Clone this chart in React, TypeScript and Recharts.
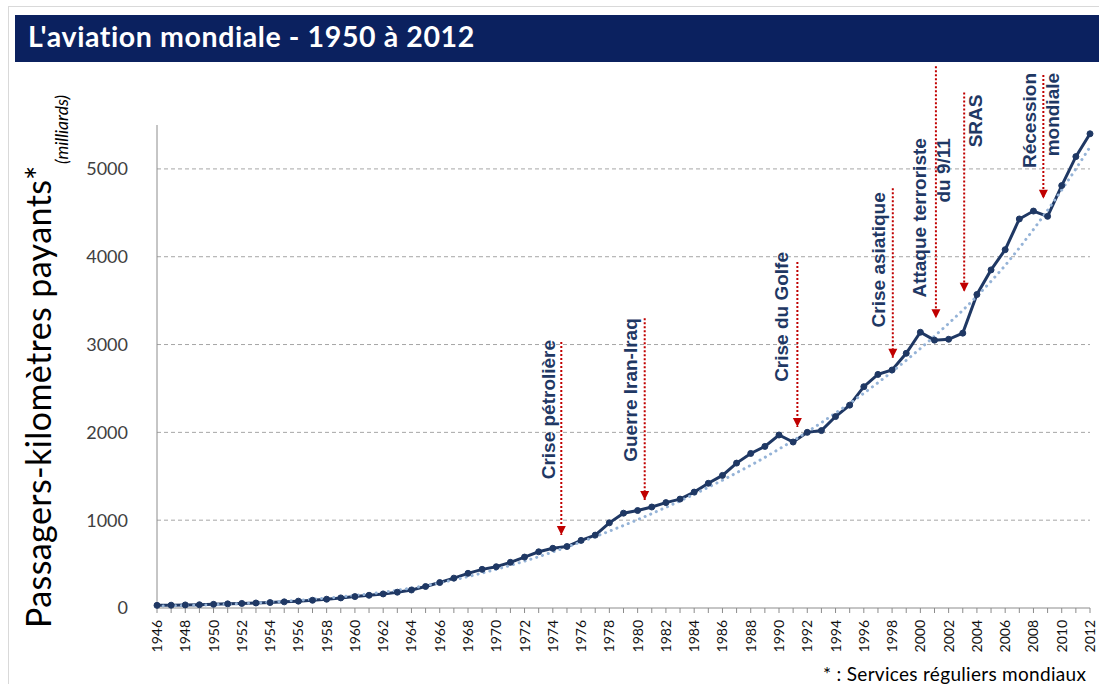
import { CartesianGrid, Line, LineChart, ReferenceLine, XAxis, YAxis } from "recharts";

// Années (catégories)
const years = [
  1946, 1947, 1948, 1949, 1950, 1951, 1952, 1953, 1954, 1955, 1956, 1957, 1958, 1959,
  1960, 1961, 1962, 1963, 1964, 1965, 1966, 1967, 1968, 1969, 1970, 1971, 1972, 1973,
  1974, 1975, 1976, 1977, 1978, 1979, 1980, 1981, 1982, 1983, 1984, 1985, 1986, 1987,
  1988, 1989, 1990, 1991, 1992, 1993, 1994, 1995, 1996, 1997, 1998, 1999, 2000, 2001,
  2002, 2003, 2004, 2005, 2006, 2007, 2008, 2009, 2010, 2011, 2012,
];

// Passagers-kilomètres payants (milliards)
const rpk = [
  30, 32, 35, 37, 42, 47, 52, 57, 62, 70, 78, 88, 100, 115,
  130, 145, 160, 180, 205, 245, 290, 340, 395, 440, 470, 520, 580, 640,
  680, 700, 770, 830, 970, 1080, 1110, 1150, 1200, 1240, 1320, 1420, 1510, 1650,
  1760, 1840, 1970, 1890, 2000, 2020, 2180, 2310, 2520, 2660, 2710, 2900, 3140, 3050,
  3060, 3130, 3570, 3850, 4080, 4430, 4520, 4460, 4810, 5140, 5400,
];

// Courbe de tendance (pointillés bleu clair)
const trend = [
  22, 25, 28, 32, 37, 43, 50, 58, 67, 77, 88, 100, 113, 127,
  143, 160, 180, 202, 227, 255, 286, 320, 357, 397, 440, 485, 533, 584,
  638, 694, 752, 812, 874, 940, 1005, 1075, 1145, 1220, 1295, 1375, 1455, 1540,
  1625, 1715, 1810, 1905, 2005, 2110, 2220, 2330, 2445, 2565, 2690, 2820, 2955, 3095,
  3240, 3390, 3550, 3720, 3900, 4100, 4310, 4530, 4760, 5000, 5250,
];

const yTicks = [0, 1000, 2000, 3000, 4000, 5000];
const gridValues = [1000, 2000, 3000, 4000, 5000];

// Événements : année de la flèche, haut et pointe (en milliards)
const eventLabels = [
  ["Crise pétrolière"],
  ["Guerre Iran-Iraq"],
  ["Crise du Golfe"],
  ["Crise asiatique"],
  ["Attaque terroriste", "du 9/11"],
  ["SRAS"],
  ["Récession", "mondiale"],
];
const eventYears = [1974.6, 1980.5, 1991.3, 1998.05, 2001.1, 2003.1, 2008.7];
const eventTops = [3030, 3300, 3940, 4780, 6170, 5870, 6070];
const eventTips = [830, 1230, 2060, 2850, 3300, 3600, 4660];

// placement du texte par rapport à la flèche (px)
const eventLayout = [
  { dx: [-6], dy: -2 },
  { dx: [-8], dy: 0 },
  { dx: [-9], dy: -10 },
  { dx: [-8], dy: 4 },
  { dx: [-10, 14], dy: 72 },
  { dx: [18], dy: 2 },
  { dx: [-7, 16], dy: -2 },
];

const data = years.map((year, i) => ({ year, rpk: rpk[i], trend: trend[i] }));

const NAVY = "#1f3864";
const RED = "#c00000";
const FONT = "Lato, 'Open Sans', sans-serif";

function EventMark(props: any) {
  const { viewBox, lines, dx, dy } = props;
  if (!viewBox) return null;
  const { x, y, height } = viewBox;
  const tip = y + height;
  return (
    <g>
      <path d={`M${x - 4.5},${tip - 9} L${x + 4.5},${tip - 9} L${x},${tip} Z`} fill={RED} />
      {lines.map((t: string, i: number) => (
        <text
          key={i}
          transform={`translate(${x + dx[i]},${y + dy}) rotate(-90)`}
          textAnchor="end"
          fontFamily="'Liberation Sans', Arial, sans-serif"
          fontWeight={700}
          fontSize={19}
          fill={NAVY}
        >
          {t}
        </text>
      ))}
    </g>
  );
}

function YearTick(props: any) {
  const { x, y, payload } = props;
  if (payload.value % 2 !== 0) return null;
  return (
    <text
      transform={`translate(${x + 5},${y + 5}) rotate(-90)`}
      textAnchor="end"
      fontFamily={FONT}
      fontSize={14}
      fill="#111"
    >
      {payload.value}
    </text>
  );
}

export default function App() {
  return (
    <div style={{ position: "absolute", left: 0, top: 0, width: 1099, height: 684, overflow: "hidden", background: "#fff", fontFamily: FONT }}>
      <svg width={1099} height={684} style={{ position: "absolute", left: 0, top: 0 }}>
        <rect x={8.5} y={6.5} width={1200} height={800} fill="none" stroke="#d9d9d9" />
        <rect x={15} y={15} width={1084} height={47} fill="#0b215f" />
        <text x={28} y={47} fill="#fff" fontFamily={FONT} fontWeight={700} fontSize={28.5} letterSpacing={0.6}>
          L'aviation mondiale - 1950 à 2012
        </text>
        <text transform="translate(51,628) rotate(-90)" fontFamily={FONT} fontSize={34} letterSpacing={0.4} fill="#000">
          Passagers-kilomètres payants*
        </text>
        <text transform="translate(68,164) rotate(-90)" fontFamily={FONT} fontStyle="italic" fontSize={17.5} fill="#000">
          (milliards)
        </text>
        <text x={823} y={681} fontFamily={FONT} fontSize={19} letterSpacing={0.3} fill="#000">
          * : Services réguliers mondiaux
        </text>
      </svg>
      <div style={{ position: "absolute", left: 0, top: 0 }}>
        <LineChart width={1099} height={684} data={data} margin={{ top: 125, right: 9, bottom: 26, left: 97 }}>
          <CartesianGrid vertical={false} horizontalValues={gridValues} stroke="#a6a6a6" strokeDasharray="4 3" />
          <XAxis
            dataKey="year"
            type="number"
            domain={[1946, 2012]}
            ticks={years}
            interval={0}
            tick={<YearTick />}
            tickSize={5}
            stroke="#8c8c8c"
            height={50}
          />
          <YAxis
            domain={[0, 5500]}
            ticks={yTicks}
            width={60}
            axisLine={{ stroke: "#8c8c8c" }}
            tickLine={false}
            tickSize={0}
            tickMargin={29}
            tick={{ fill: "#404040", fontSize: 18, fontFamily: FONT }}
          />
          <Line
            type="linear"
            dataKey="rpk"
            stroke={NAVY}
            strokeWidth={3}
            dot={{ r: 3, fill: NAVY, stroke: NAVY, strokeWidth: 1 }}
            isAnimationActive={false}
          />
          <Line
            type="linear"
            dataKey="trend"
            stroke="#95b3d7"
            strokeWidth={3}
            strokeDasharray="0.1 6"
            strokeLinecap="round"
            dot={false}
            isAnimationActive={false}
          />
          {eventLabels.map((lines, i) => (
            <ReferenceLine
              key={i}
              segment={[
                { x: eventYears[i], y: eventTops[i] },
                { x: eventYears[i], y: eventTips[i] },
              ]}
              stroke={RED}
              strokeWidth={2}
              strokeDasharray="2 2"
              ifOverflow="visible"
              label={<EventMark lines={lines} dx={eventLayout[i].dx} dy={eventLayout[i].dy} />}
            />
          ))}
        </LineChart>
      </div>
    </div>
  );
}
